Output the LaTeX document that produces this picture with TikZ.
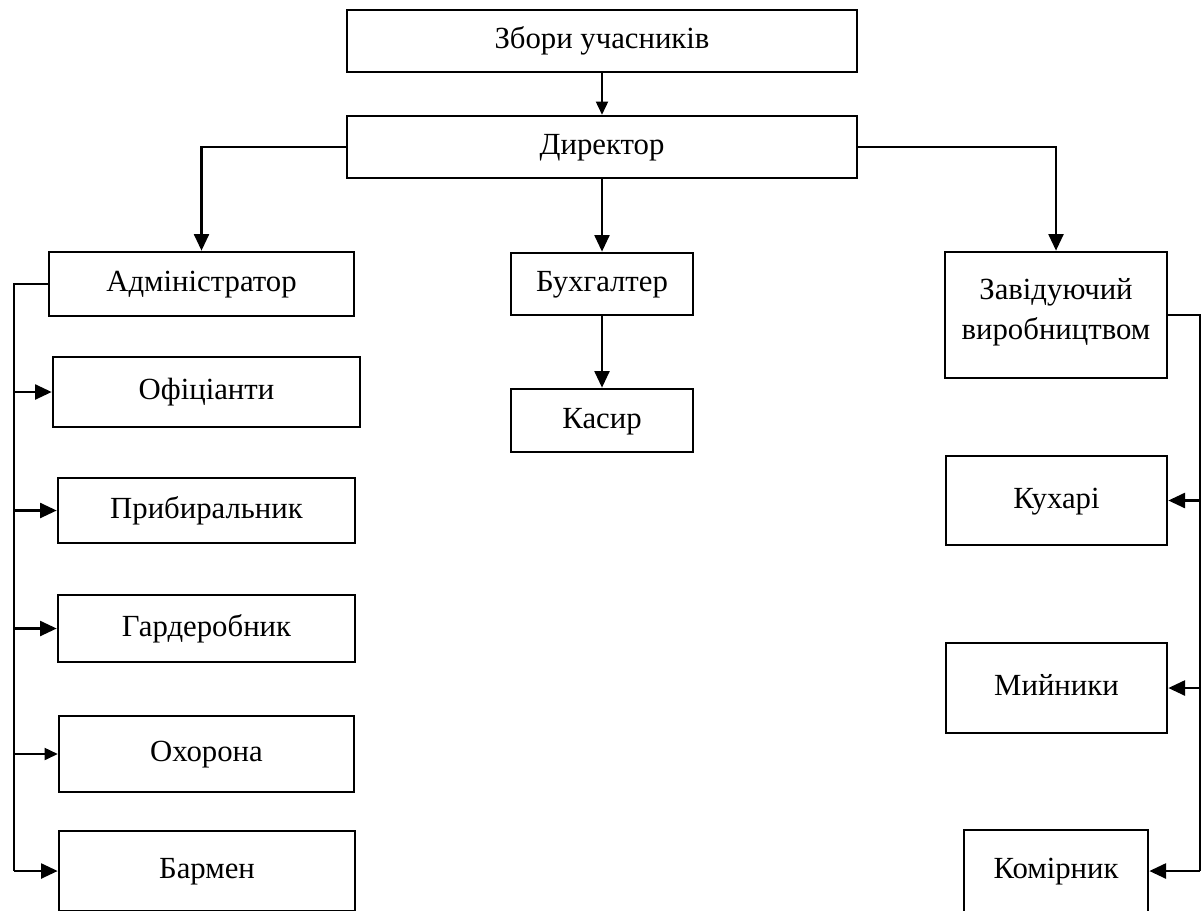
\documentclass[tikz,border=0pt]{standalone}
\usepackage{fontspec}
\setmainfont{Liberation Serif}
\usetikzlibrary{arrows.meta,calc}

\begin{document}
\begin{tikzpicture}[
    x=0.02cm, y=-0.02cm,
    box/.style={rectangle, draw, line width=1.5pt, align=center, inner sep=2pt, font=\fontsize{17.5}{22.5}\selectfont, execute at begin node=\strut},
    arrow/.style={-{Triangle[length=9.5pt,width=8.5pt]}, line width=1.5pt},
    thinarrow/.style={-{Triangle[length=7.5pt,width=7pt]}, line width=0.7pt},
    link/.style={line width=1.5pt}
]
\useasboundingbox (0,0) rectangle (1203,910);
\clip (0,0) rectangle (1203,910);
\node[box, minimum width=10.2cm, minimum height=1.24cm] (meeting) at (602,41) {Збори учасників};
\node[box, minimum width=10.2cm, minimum height=1.24cm] (director) at (602,147) {Директор};
\node[box, minimum width=6.1cm, minimum height=1.28cm] (admin) at (201.5,284) {Адміністратор};
\node[box, minimum width=3.64cm, minimum height=1.24cm] (accountant) at (602,284) {Бухгалтер};
\node[box, minimum width=3.64cm, minimum height=1.26cm] (cashier) at (602,420.5) {Касир};
\node[box, minimum width=4.44cm, minimum height=2.52cm] (chef) at (1056,315) {Завідуючий\\виробництвом};
\node[box, minimum width=6.14cm, minimum height=1.4cm] (waiters) at (206.5,392) {Офіціанти};
\node[box, minimum width=5.94cm, minimum height=1.3cm] (cleaner) at (206.5,510.5) {Прибиральник};
\node[box, minimum width=5.94cm, minimum height=1.34cm] (cloakroom) at (206.5,628.5) {Гардеробник};
\node[box, minimum width=5.9cm, minimum height=1.52cm] (guard) at (206.5,754) {Охорона};
\node[box, minimum width=5.92cm, minimum height=1.6cm] (barman) at (207,871) {Бармен};
\node[box, minimum width=4.42cm, minimum height=1.78cm] (cooks) at (1056.5,500.5) {Кухарі};
\node[box, minimum width=4.42cm, minimum height=1.8cm] (washers) at (1056.5,688) {Мийники};
\node[box, minimum width=3.68cm, minimum height=1.64cm] (storekeeper) at (1056,871) {Комірник};

\draw[thinarrow] (meeting) -- (director);
\draw[arrow] (director.west) -| (admin.north);
\draw[arrow] (director) -- (accountant);
\draw[arrow] (director.east) -| (chef.north);
\draw[arrow] (accountant) -- (cashier);

\coordinate (lbus) at (14,284);
\coordinate (rbus) at (1200,315);
\draw[link] (admin.west) -- (lbus) -- (lbus |- barman.west);
\foreach \n in {waiters,cleaner,cloakroom,barman}
    \draw[arrow] (lbus |- \n.west) -- (\n.west);
\draw[thinarrow] (lbus |- guard.west) -- (guard.west);
\draw[link] (chef.east) -- (rbus) -- (rbus |- storekeeper.east);
\foreach \n in {cooks,washers,storekeeper}
    \draw[arrow] (rbus |- \n.east) -- (\n.east);
\end{tikzpicture}
\end{document}
